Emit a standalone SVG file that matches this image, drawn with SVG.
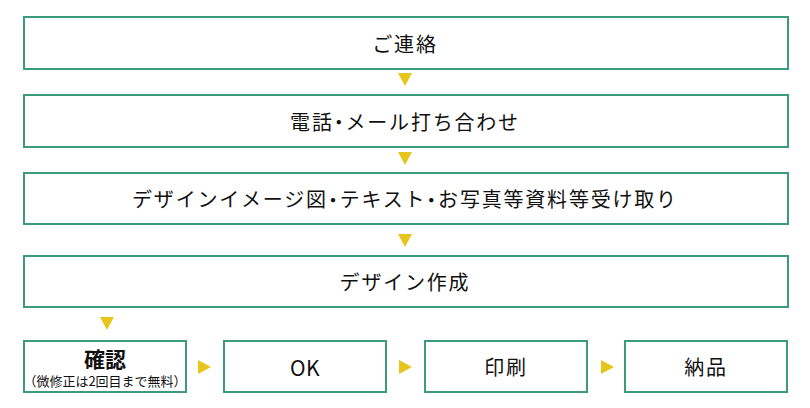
<svg xmlns="http://www.w3.org/2000/svg" width="810" height="408" viewBox="0 0 810 408">
<style>
.box{fill:#ffffff;stroke:#3d9a7c;stroke-width:2}
.t{font-family:"Noto Sans CJK JP","Noto Sans",sans-serif;font-size:20px;font-weight:400;fill:#111111;text-anchor:middle;dominant-baseline:central;letter-spacing:1.8px}
.b{font-weight:bold;font-size:21px;letter-spacing:0}
.s{font-size:13px;letter-spacing:0}
.ok{font-size:21px;letter-spacing:0.5px}
.dot{font-feature-settings:"halt"}
.arr{fill:#e6c51c}
</style>
<rect width="810" height="408" fill="#ffffff"/>
<g id="node1"><rect class="box" x="24" y="17" width="764" height="52"/><text class="t" x="405" y="43">ご連絡</text></g>
<g id="node2"><rect class="box" x="24" y="95" width="764" height="52"/><text class="t" x="405" y="121">電話<tspan class="dot">・</tspan>メール打ち合わせ</text></g>
<g id="node3"><rect class="box" x="24" y="173" width="764" height="51"/><text class="t" x="405" y="198.5">デザインイメージ図<tspan class="dot">・</tspan>テキスト<tspan class="dot">・</tspan>お写真等資料等受け取り</text></g>
<g id="node4"><rect class="box" x="24" y="256" width="764" height="51"/><text class="t" x="405" y="281.5">デザイン作成</text></g>
<g id="node5"><rect class="box" x="24" y="341" width="162" height="51"/><text class="t b" x="105" y="358">確認</text><text class="t s" x="105" y="380">（微修正は2回目まで無料）</text></g>
<g id="node6"><rect class="box" x="224" y="341" width="162" height="51"/><text class="t ok" x="305" y="366.5">OK</text></g>
<g id="node7"><rect class="box" x="425" y="341" width="162" height="51"/><text class="t" x="506" y="366.5">印刷</text></g>
<g id="node8"><rect class="box" x="625" y="341" width="162" height="51"/><text class="t" x="706" y="366.5">納品</text></g>
<g id="connectors">
<polygon class="arr" points="398,73 412,73 405,86"/>
<polygon class="arr" points="398,152 412,152 405,165"/>
<polygon class="arr" points="398,234 412,234 405,247"/>
<polygon class="arr" points="100,317 114,317 107,330"/>
<polygon class="arr" points="198,360 198,374 211,367"/>
<polygon class="arr" points="399,360 399,374 412,367"/>
<polygon class="arr" points="601,360 601,374 614,367"/>
</g>
</svg>
